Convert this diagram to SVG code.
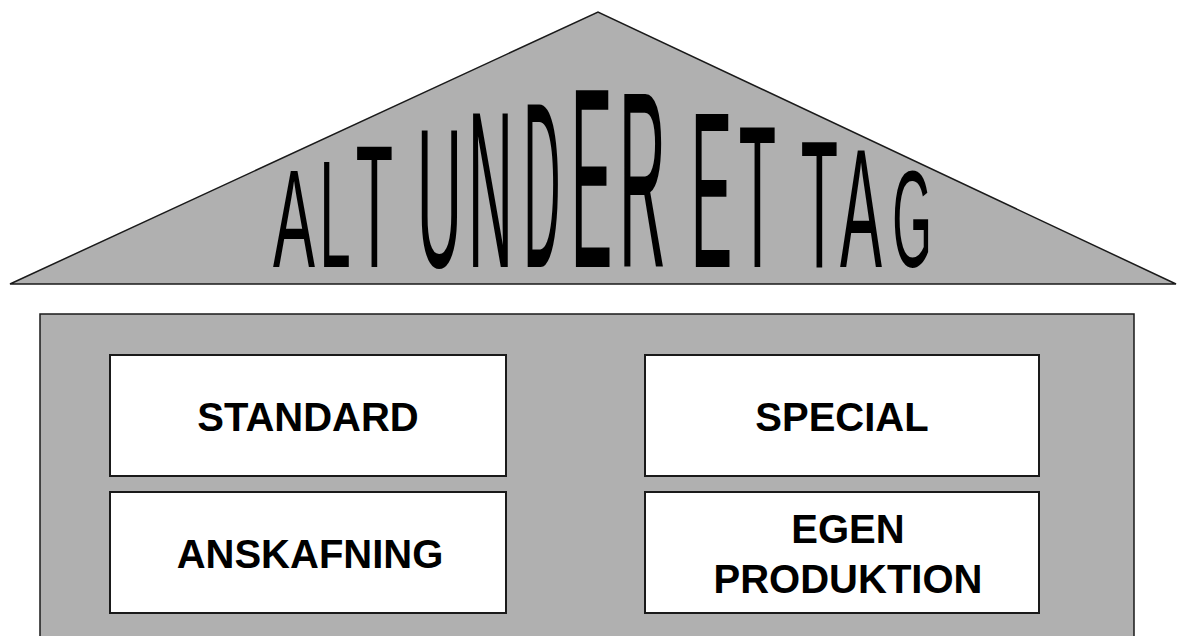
<svg xmlns="http://www.w3.org/2000/svg" width="1178" height="636" viewBox="0 0 1178 636">
<style>
.gray{fill:#b0b0b0;stroke:#1a1a1a;stroke-width:1.5}
.box{fill:#ffffff;stroke:#1a1a1a;stroke-width:2}
.lbl{font-family:"Liberation Sans",Arial,sans-serif;font-weight:bold;font-size:40px;fill:#000;text-anchor:middle}
.wa{font-family:"Liberation Sans",Arial,sans-serif;font-weight:normal;font-size:100px;fill:#000;text-anchor:middle}
</style>
<rect width="1178" height="636" fill="#ffffff"/>
<g id="roof">
<polygon class="gray" points="10,284 598,12 1176,284"/>
<g id="title">
<text class="wa" transform="translate(294,267) scale(0.63,1.40)">A</text>
<text class="wa" transform="translate(335,267) scale(0.56,1.52)">L</text>
<text class="wa" transform="translate(374.5,267) scale(0.61,1.745)">T</text>
<text class="wa" transform="translate(439.5,267) scale(0.62,1.98)">U</text>
<text class="wa" transform="translate(490.5,267) scale(0.62,2.22)">N</text>
<text class="wa" transform="translate(542,267) scale(0.51,2.36)">D</text>
<text class="wa" transform="translate(591.5,267) scale(0.62,2.57)">E</text>
<text class="wa" transform="translate(642.5,267) scale(0.65,2.51)">R</text>
<text class="wa" transform="translate(711.5,267) scale(0.62,2.22)">E</text>
<text class="wa" transform="translate(757.5,267) scale(0.61,2.02)">T</text>
<text class="wa" transform="translate(819.5,267) scale(0.61,1.82)">T</text>
<text class="wa" transform="translate(861,267) scale(0.63,1.68)">A</text>
<text class="wa" transform="translate(912,267) scale(0.51,1.38)">G</text>
</g>
</g>
<g id="building">
<rect class="gray" x="40" y="314" width="1094" height="340"/>
</g>
<g id="standard">
<rect class="box" x="110" y="355" width="396" height="121"/>
<text class="lbl" x="308" y="431">STANDARD</text>
</g>
<g id="anskafning">
<rect class="box" x="110" y="492" width="396" height="121"/>
<text class="lbl" x="310" y="568">ANSKAFNING</text>
</g>
<g id="special">
<rect class="box" x="645" y="355" width="394" height="121"/>
<text class="lbl" x="842" y="431">SPECIAL</text>
</g>
<g id="egen-produktion">
<rect class="box" x="645" y="492" width="394" height="121"/>
<text class="lbl" x="848" y="543">EGEN</text>
<text class="lbl" x="848" y="593">PRODUKTION</text>
</g>
<g id="connectors"/>
</svg>
